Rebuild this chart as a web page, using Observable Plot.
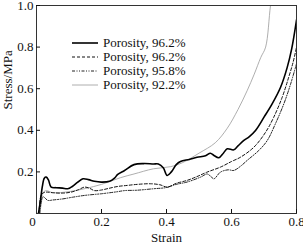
<!DOCTYPE html>
<html><head><meta charset="utf-8">
<script src="https://cdn.jsdelivr.net/npm/d3@7"></script>
<script src="https://cdn.jsdelivr.net/npm/@observablehq/plot@0.6"></script>
<style>
body{margin:0;background:#fff;}
#wrap{position:relative;width:303px;height:244px;font-family:"Liberation Serif","Times New Roman",serif;}
#legend{position:absolute;left:72px;top:36px;font-size:13px;line-height:14px;color:#111;}
#legend .row{display:flex;align-items:center;height:14px;white-space:nowrap;}
#legend svg{width:26px;height:14px;margin-right:5px;}
</style></head>
<body><div id="wrap"><div id="legend"></div></div>
<script>
const seriesNames = ["Porosity, 96.2%", "Porosity, 96.2%", "Porosity, 95.8%", "Porosity, 92.2%"];

const s1x = [0.006,0.012,0.018,0.024,0.03,0.037,0.045,0.06,0.08,0.096,0.11,0.127,0.143,0.16,0.178,0.199,0.225,0.24,0.25,0.271,0.3,0.33,0.36,0.375,0.39,0.402,0.415,0.43,0.443,0.47,0.494,0.52,0.535,0.546,0.561,0.575,0.587,0.607,0.62,0.638,0.655,0.674,0.70,0.725,0.751,0.771,0.785,0.8];
const s1y = [0,0.06,0.13,0.17,0.175,0.16,0.127,0.124,0.122,0.119,0.13,0.151,0.167,0.163,0.155,0.151,0.155,0.17,0.188,0.207,0.235,0.24,0.238,0.238,0.22,0.183,0.2,0.235,0.25,0.26,0.27,0.278,0.29,0.279,0.268,0.29,0.311,0.306,0.325,0.351,0.37,0.399,0.463,0.527,0.607,0.70,0.79,0.93];

const s2x = [0.008,0.014,0.022,0.03,0.05,0.08,0.107,0.13,0.148,0.165,0.178,0.2,0.22,0.25,0.279,0.31,0.351,0.38,0.402,0.43,0.463,0.49,0.525,0.566,0.6,0.628,0.669,0.705,0.73,0.756,0.776,0.79,0.8];
const s2y = [0,0.087,0.1,0.103,0.1,0.098,0.103,0.115,0.127,0.12,0.11,0.113,0.12,0.13,0.135,0.14,0.143,0.138,0.127,0.145,0.159,0.175,0.199,0.223,0.25,0.271,0.319,0.391,0.463,0.559,0.655,0.73,0.80];

const s3x = [0.01,0.02,0.035,0.05,0.08,0.11,0.148,0.2,0.25,0.27,0.31,0.36,0.40,0.43,0.463,0.505,0.525,0.535,0.546,0.566,0.59,0.607,0.63,0.648,0.684,0.71,0.735,0.761,0.782,0.8];
const s3y = [0,0.08,0.063,0.065,0.07,0.078,0.087,0.095,0.105,0.11,0.112,0.119,0.125,0.14,0.151,0.175,0.19,0.18,0.167,0.199,0.21,0.207,0.23,0.255,0.303,0.351,0.431,0.527,0.623,0.72];

const s4x = [0.01,0.015,0.02,0.03,0.05,0.1,0.15,0.2,0.258,0.3,0.36,0.412,0.45,0.5,0.55,0.587,0.62,0.648,0.67,0.69,0.705,0.72,0.73];
const s4y = [0,0.05,0.1,0.11,0.1,0.105,0.12,0.14,0.172,0.19,0.215,0.225,0.245,0.29,0.34,0.41,0.5,0.59,0.67,0.75,0.8,1.0,1.1];

const xTicks = [0.2, 0.4, 0.6, 0.8];
const xTickLabels = ["0.2", "0.4", "0.6", "0.8"];
const yTicks = [0.2, 0.4, 0.6, 0.8, 1.0];
const yTickLabels = ["0.2", "0.4", "0.6", "0.8", "1.0"];
const originLabel = "0";
const xLabel = "Strain";
const yLabel = "Stress/MPa";

const styles = [
  {stroke: "#000", strokeWidth: 1.6, dash: null},
  {stroke: "#111", strokeWidth: 1, dash: "3,2"},
  {stroke: "#222", strokeWidth: 1, dash: "3,1.5,1,1.5,1,1.5"},
  {stroke: "#999", strokeWidth: 0.8, dash: null}
];

const seriesX = [s1x, s2x, s3x, s4x];
const seriesY = [s1y, s2y, s3y, s4y];
const tables = seriesX.map((xs, i) => xs.map((x, j) => ({x, y: seriesY[i][j]})));

const lineMarks = tables.map((t, i) => Plot.line(t, {
  x: "x", y: "y", stroke: styles[i].stroke, strokeWidth: styles[i].strokeWidth,
  strokeDasharray: styles[i].dash || undefined, curve: "catmull-rom", clip: true
})).reverse();

const chart = Plot.plot({
  width: 303, height: 244,
  marginLeft: 36, marginRight: 7, marginTop: 5, marginBottom: 31,
  style: {fontFamily: "'Liberation Serif','Times New Roman',serif", fontSize: "13px", color: "#111", background: "#fff"},
  x: {domain: [0, 0.8]},
  y: {domain: [0, 1]},
  marks: [
    ...lineMarks,
    Plot.frame({stroke: "#333", strokeWidth: 1}),
    Plot.axisX(xTicks, {tickSize: -4, tickPadding: 7, tickFormat: (d, i) => xTickLabels[i], label: null}),
    Plot.axisX([0], {tickSize: 0, tickPadding: 3, dx: -4, tickFormat: () => originLabel, label: null}),
    Plot.axisY(yTicks, {tickSize: -4, tickPadding: 7, tickFormat: (d, i) => yTickLabels[i], label: null}),
    Plot.text([xLabel], {text: d => d, frameAnchor: "bottom", dy: 28, fontSize: 13}),
    Plot.text([yLabel], {text: d => d, frameAnchor: "left", dx: -29, rotate: -90, fontSize: 13})
  ]
});
document.getElementById("wrap").prepend(chart);
chart.style.position = "absolute"; chart.style.left = "0"; chart.style.top = "0";

const legend = document.getElementById("legend");
seriesNames.forEach((name, i) => {
  const row = document.createElement("div");
  row.className = "row";
  const st = styles[i];
  row.innerHTML = `<svg><line x1="0" x2="26" y1="7" y2="7" stroke="${st.stroke}" stroke-width="${st.strokeWidth}" ${st.dash ? `stroke-dasharray="${st.dash}"` : ""}/></svg><span>${name}</span>`;
  legend.appendChild(row);
});
</script>
</body></html>
